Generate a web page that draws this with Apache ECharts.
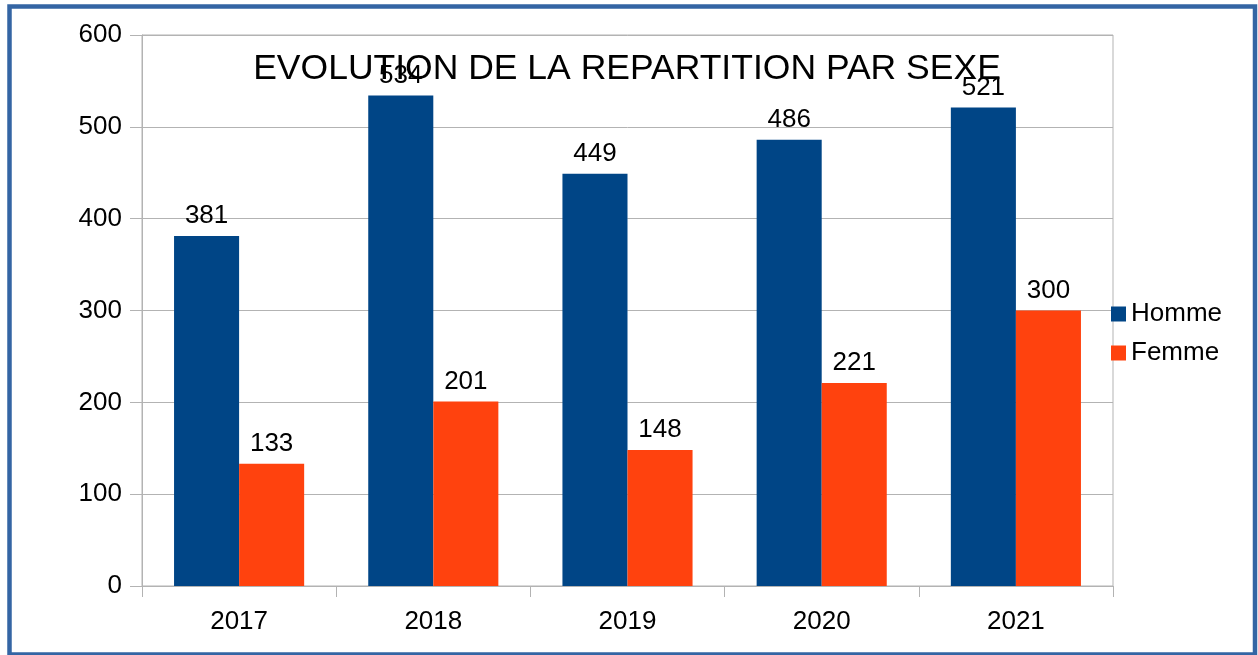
<!DOCTYPE html>
<html>
<head>
<meta charset="utf-8">
<script src="https://cdn.jsdelivr.net/npm/echarts@6/dist/echarts.min.js"></script>
<style>
html,body{margin:0;padding:0;background:#fff;}
#c{width:1258px;height:655px;}
</style>
</head>
<body>
<div id="c"></div>
<script>
var categories = ['2017', '2018', '2019', '2020', '2021'];
var homme = [381, 534, 449, 486, 521];
var femme = [133, 201, 148, 221, 300];
var yTicks = [0, 100, 200, 300, 400, 500, 600];

var chart = echarts.init(document.getElementById('c'), null, {renderer: 'canvas'});
var font = 'Liberation Sans, Arial, sans-serif';
var labelStyle = {show: true, position: 'top', distance: 7, color: '#000', fontSize: 26, fontFamily: font};
chart.setOption({
  animation: false,
  backgroundColor: '#fff',
  title: {
    text: 'EVOLUTION DE LA REPARTITION PAR SEXE',
    left: 627, top: 51, textAlign: 'center', padding: 0,
    textStyle: {fontSize: 35.5, fontWeight: 'normal', color: '#000', fontFamily: font}
  },
  legend: {
    orient: 'vertical', left: 1111, top: 301, padding: 0,
    itemWidth: 15, itemHeight: 15, itemGap: 13,
    icon: 'rect',
    textStyle: {fontSize: 26, color: '#000', fontFamily: font},
    data: ['Homme', 'Femme']
  },
  grid: {left: 142, right: 145, top: 35, bottom: 69, show: true, borderColor: '#b3b3b3', borderWidth: 1, containLabel: false},
  xAxis: {
    type: 'category', data: categories,
    axisLine: {lineStyle: {color: '#b3b3b3'}},
    axisTick: {show: true, alignWithLabel: false, length: 11, lineStyle: {color: '#b3b3b3'}},
    axisLabel: {color: '#000', fontSize: 26, fontFamily: font, margin: 23}
  },
  yAxis: {
    type: 'value', min: yTicks[0], max: yTicks[yTicks.length - 1], interval: 100,
    axisLine: {show: true, lineStyle: {color: '#b3b3b3'}},
    axisTick: {show: true, length: 12, lineStyle: {color: '#b3b3b3'}},
    splitLine: {show: true, lineStyle: {color: '#b3b3b3'}},
    axisLabel: {color: '#000', fontSize: 26, fontFamily: font, margin: 20}
  },
  series: [
    {name: 'Homme', type: 'bar', data: homme, barGap: '0%', barCategoryGap: '33%', itemStyle: {color: '#004586'}, label: labelStyle},
    {name: 'Femme', type: 'bar', data: femme, barGap: '0%', barCategoryGap: '33%', itemStyle: {color: '#ff420e'}, label: labelStyle}
  ],
  graphic: [{
    type: 'rect', z: 100, silent: true,
    shape: {x: 9.5, y: 6.5, width: 1245.5, height: 648},
    style: {fill: 'none', stroke: '#3465a4', lineWidth: 4.5}
  }]
});
</script>
</body>
</html>
